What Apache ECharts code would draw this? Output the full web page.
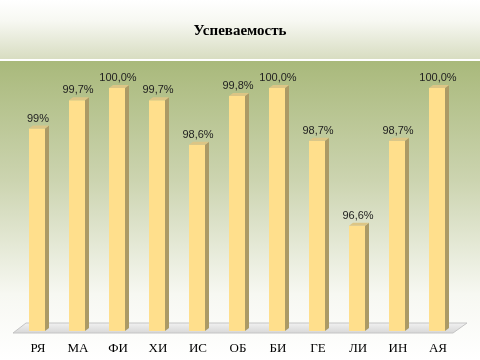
<!DOCTYPE html>
<html><head><meta charset="utf-8">
<script src="https://cdn.jsdelivr.net/npm/echarts@6/dist/echarts.min.js"></script>
<style>html,body{margin:0;padding:0;background:#fff}#c{width:480px;height:360px}</style>
</head><body><div id="c"></div>
<script>
const categories = ['РЯ','МА','ФИ','ХИ','ИС','ОБ','БИ','ГЕ','ЛИ','ИН','АЯ'];
const values = [99, 99.7, 100, 99.7, 98.6, 99.8, 100, 98.7, 96.6, 98.7, 100];
const valueLabels = ['99%','99,7%','100,0%','99,7%','98,6%','99,8%','100,0%','98,7%','96,6%','98,7%','100,0%'];
const yMin = 94, yMax = 100;

const chart = echarts.init(document.getElementById('c'), null, {renderer:'canvas'});
chart.setOption({
  animation:false,
  graphic:[
    {type:'rect', z:-10, shape:{x:0,y:0,width:480,height:60},
     style:{fill:new echarts.graphic.LinearGradient(0,0,0,1,[{offset:0,color:'#ffffff'},{offset:0.35,color:'#f7f8f2'},{offset:1,color:'#d7dcc0'}])}},
    {type:'rect', z:-10, shape:{x:0,y:59,width:480,height:2}, style:{fill:'#ffffff'}},
    {type:'rect', z:-10, shape:{x:0,y:61,width:480,height:299},
     style:{fill:new echarts.graphic.LinearGradient(0,0,0,1,[{offset:0,color:'#a9b97b'},{offset:0.4,color:'#ccd4b0'},{offset:0.78,color:'#f7f8f2'},{offset:1,color:'#ffffff'}])}},
    {type:'polygon', z:-5, shape:{points:[[13,333],[26,323],[467,323],[453,333]]},
     style:{fill:new echarts.graphic.LinearGradient(0,0,0,1,[{offset:0,color:'#f2f2f2'},{offset:1,color:'#d6d6d6'}]), stroke:'#c4c4c4', lineWidth:1}},
    {type:'text', z:10, left:'center', top:24,
     style:{text:'Успеваемость', font:'bold 15px "Liberation Serif", serif', fill:'#000'}}
  ],
  grid:{left:18, right:22, top:88, bottom:29},
  xAxis:{type:'category', data:categories, axisLine:{show:false}, axisTick:{show:false},
    axisLabel:{margin:11, color:'#000', fontFamily:'"Liberation Serif", serif', fontSize:13}},
  yAxis:{type:'value', min:yMin, max:yMax, show:false, splitLine:{show:false}},
  series:[{
    type:'custom',
    data: values.map((v,i)=>[i,v]),
    renderItem:function(params, api){
      const i = api.value(0), v = api.value(1);
      const top = api.coord([i, v]);
      const bot = api.coord([i, yMin]);
      const c = top[0];
      const xl = c - 9, xr = c + 7, dx = 4, dy = 3;
      const yt = top[1], yb = bot[1];
      return {type:'group', children:[
        {type:'rect', shape:{x:xl, y:yt, width:xr-xl, height:yb-yt}, style:{fill:'#ffdf8c'}},
        {type:'polygon', shape:{points:[[xr,yt],[xr+dx,yt-dy],[xr+dx,yb-dy],[xr,yb]]}, style:{fill:'#ab9a66'}},
        {type:'polygon', shape:{points:[[xl,yt],[xl+dx,yt-dy],[xr+dx,yt-dy],[xr,yt]]}, style:{fill:'#dcc585'}},
        {type:'text', x:c, y:yt-10, style:{text:valueLabels[params.dataIndex], font:'11px "Liberation Sans", sans-serif', fill:'#222', align:'center', verticalAlign:'middle'}}
      ]};
    }
  }]
});
</script></body></html>
